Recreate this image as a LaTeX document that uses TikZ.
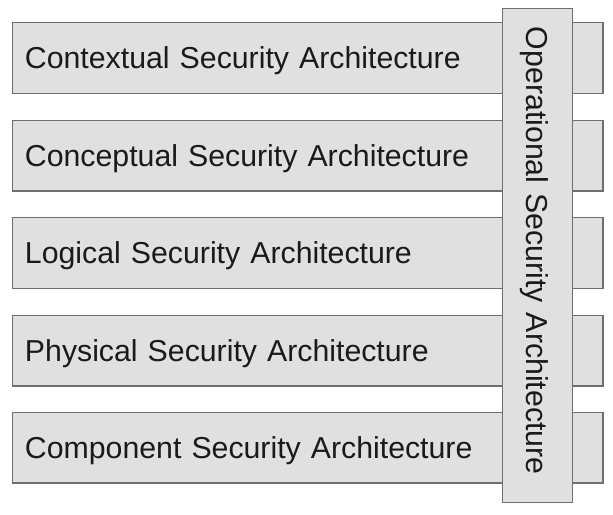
\documentclass[tikz,border=0pt]{standalone}
\usepackage{fontspec}
\setmainfont{Liberation Sans}
\usepackage{xcolor}
\usetikzlibrary{positioning}
\definecolor{barfill}{HTML}{E0E0E0}
\definecolor{barline}{HTML}{6E6E6E}
\definecolor{bartext}{HTML}{1A1A1A}
\tikzset{
  layer/.style={draw=barline, fill=barfill, line width=1.1pt, rectangle,
    minimum width=443pt, minimum height=52.9pt, inner xsep=9.5pt, inner ysep=0pt,
    text width=424pt, align=left, text height=16.25pt, text depth=0pt,
    text=bartext, font=\fontsize{22.7}{27}\selectfont},
  opbar/.style={layer, rotate=-90, minimum width=370.8pt, minimum height=52.5pt,
    inner xsep=14pt, text width=342.8pt}
}
\begin{document}
\begin{tikzpicture}[x=0.75pt,y=-0.75pt]
            \useasboundingbox (0,0) rectangle (613,514);
            \node [layer] (contextual) at (307.65,58) {Contextual Security Architecture};
            \node [layer] (conceptual) at (307.65,155.5) {Conceptual Security Architecture};
            \node [layer] (logical) at (307.65,253) {Logical Security Architecture};
            \node [layer] (physical) at (307.65,350.5) {Physical Security Architecture};
            \node [layer] (component) at (307.65,447.7) {Component Security Architecture};
            \node [opbar] (operational) at (537.7,255.5) {Operational Security Architecture};
            \end{tikzpicture}
\end{document}
